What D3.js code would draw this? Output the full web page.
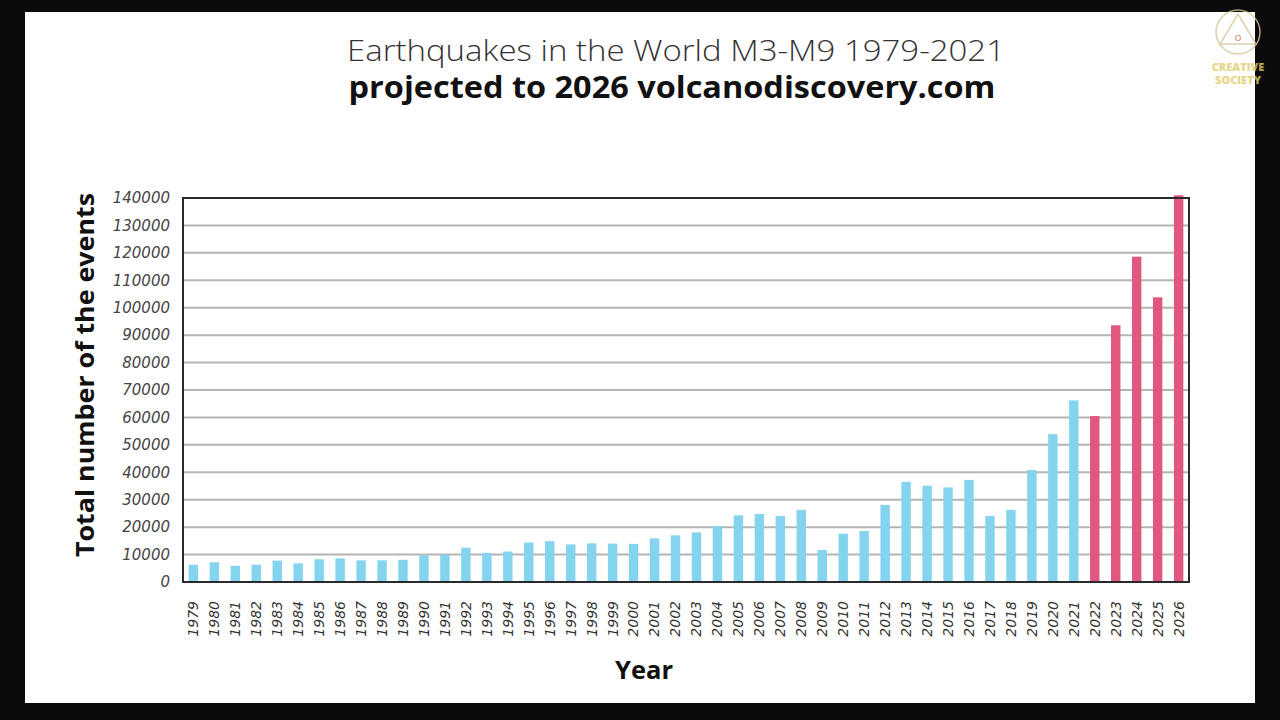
<!DOCTYPE html>
<html>
<head>
<meta charset="utf-8">
<title>Earthquakes in the World M3-M9</title>
<style>
  html, body {margin: 0; padding: 0; background: #0b0b0b; overflow: hidden;}
  svg {display: block;}
  .ytick text {font-family: "DejaVu Sans", sans-serif; font-style: italic; font-size: 15px; fill: #444;}
  .xtick text {font-family: "DejaVu Sans", sans-serif; font-style: italic; font-size: 14px; fill: #333;}
</style>
</head>
<body>
<svg id="chart" width="1280" height="720"></svg>
<script src="https://cdn.jsdelivr.net/npm/d3@7/dist/d3.min.js"></script>
<script>
// observed counts 1979-2021, then the projection 2022-2026
var years = d3.range(1979, 2027);
var observed = [6300, 7200, 5900, 6300, 7800, 6800, 8300, 8600, 7900, 7900, 8100, 9700, 9900,
                12500, 10600, 11100, 14400, 14900, 13700, 14100, 14000, 13900, 15900, 17000, 18100,
                20400, 24300, 24800, 24100, 26300, 11700, 17600, 18600, 28100, 36500, 35100, 34500,
                37200, 24100, 26300, 40800, 53900, 66200];
var projected = [60500, 93600, 118600, 103800, 141000];
var yTicks = d3.range(0, 140001, 10000);

var values = observed.concat(projected);
var data = years.map(function(y, i) {
    return {year: y, value: values[i], projected: i >= observed.length};
});

var svg = d3.select("#chart");

// white sheet inside the dark frame
svg.append("rect").attr("x", 25).attr("y", 12).attr("width", 1230).attr("height", 691).attr("fill", "#fff");

var plot = {left: 183, right: 1189, top: 198, bottom: 582};

var x = d3.scaleBand().domain(years).range([plot.left, plot.right]).paddingInner(0.55).paddingOuter(0.27);
var y = d3.scaleLinear().domain([0, 140000]).range([plot.bottom, plot.top]);

// gridlines
svg.append("g").selectAll("line").data(yTicks.slice(1, -1)).enter().append("line")
    .attr("x1", plot.left).attr("x2", plot.right)
    .attr("y1", function(d) { return y(d); }).attr("y2", function(d) { return y(d); })
    .attr("stroke", "#b4b4b4").attr("stroke-width", 2);

// bars
svg.append("g").selectAll("rect").data(data).enter().append("rect")
    .attr("x", function(d) { return x(d.year); })
    .attr("width", x.bandwidth())
    .attr("y", function(d) { return y(d.value); })
    .attr("height", function(d) { return y(0) - y(d.value); })
    .attr("fill", function(d) { return d.projected ? "#e0577f" : "#84d4ef"; });

// frame
svg.append("rect").attr("x", plot.left).attr("y", plot.top)
    .attr("width", plot.right - plot.left).attr("height", plot.bottom - plot.top)
    .attr("fill", "none").attr("stroke", "#2a2a2a").attr("stroke-width", 2);

// y axis
var yAxis = svg.append("g").attr("class", "ytick")
    .attr("transform", "translate(" + (plot.left - 13) + ",0)")
    .call(d3.axisLeft(y).tickValues(yTicks).tickSize(0).tickPadding(0).tickFormat(d3.format("d")));
yAxis.select(".domain").remove();

// x axis
var xAxis = svg.append("g").attr("class", "xtick")
    .attr("transform", "translate(0," + (plot.bottom + 19) + ")")
    .call(d3.axisBottom(x).tickSize(0).tickPadding(0));
xAxis.select(".domain").remove();
xAxis.selectAll("text")
    .attr("transform", "rotate(-90)")
    .attr("text-anchor", "end")
    .attr("dy", "0.35em")
    .attr("x", 0).attr("y", 0);

// titles
svg.append("text").attr("x", 676).attr("y", 61).attr("text-anchor", "middle")
    .attr("textLength", 658).attr("lengthAdjust", "spacingAndGlyphs")
    .style("font-family", "'Open Sans', sans-serif").style("font-weight", 300).style("font-size", "30px")
    .attr("fill", "#333").text("Earthquakes in the World M3-M9 1979-2021");
svg.append("text").attr("x", 672).attr("y", 98).attr("text-anchor", "middle")
    .attr("textLength", 647).attr("lengthAdjust", "spacingAndGlyphs")
    .style("font-family", "'Open Sans', sans-serif").style("font-weight", 700).style("font-size", "30px")
    .attr("fill", "#111").text("projected to 2026 volcanodiscovery.com");

svg.append("text").attr("transform", "translate(94,375) rotate(-90)").attr("text-anchor", "middle")
    .attr("textLength", 364).attr("lengthAdjust", "spacingAndGlyphs")
    .style("font-family", "'Open Sans', sans-serif").style("font-weight", 700).style("font-size", "25px")
    .attr("fill", "#111").text("Total number of the events");

svg.append("text").attr("x", 644).attr("y", 679).attr("text-anchor", "middle")
    .attr("textLength", 58).attr("lengthAdjust", "spacingAndGlyphs")
    .style("font-family", "'Open Sans', sans-serif").style("font-weight", 700).style("font-size", "25px")
    .attr("fill", "#111").text("Year");

// logo top right
var logo = svg.append("g").attr("opacity", 0.8);
logo.append("circle").attr("cx", 1238).attr("cy", 32).attr("r", 22)
    .attr("fill", "none").attr("stroke", "#d8c598").attr("stroke-width", 1.5);
logo.append("path").attr("d", "M1238,14 L1256,44 L1220,44 Z")
    .attr("fill", "none").attr("stroke", "#d8c598").attr("stroke-width", 1.5);
logo.append("circle").attr("cx", 1238).attr("cy", 38).attr("r", 2.5)
    .attr("fill", "none").attr("stroke", "#d98a6a").attr("stroke-width", 1.2);
logo.append("text").attr("x", 1238).attr("y", 71).attr("text-anchor", "middle")
    .style("font-family", "'Open Sans', sans-serif").style("font-weight", 800).style("font-size", "11px")
    .attr("fill", "#e0cc6a").text("CREATIVE");
logo.append("text").attr("x", 1238).attr("y", 84).attr("text-anchor", "middle")
    .style("font-family", "'Open Sans', sans-serif").style("font-weight", 800).style("font-size", "11px")
    .attr("fill", "#e0cc6a").text("SOCIETY");
</script>
</body>
</html>
